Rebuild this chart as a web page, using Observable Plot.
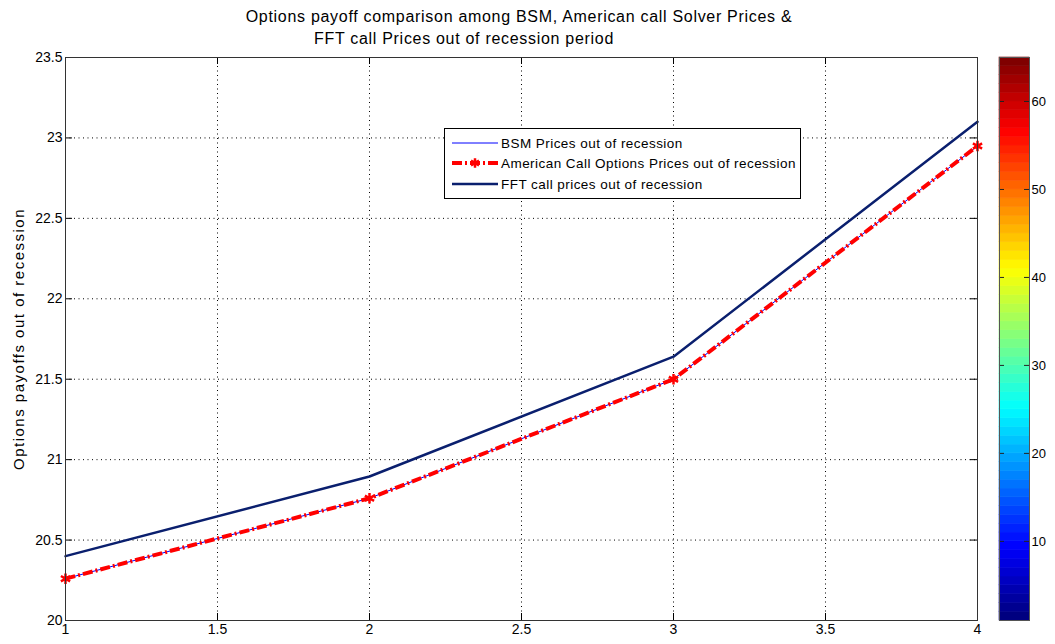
<!DOCTYPE html>
<html><head><meta charset="utf-8">
<script src="https://cdn.jsdelivr.net/npm/d3@7"></script>
<script src="https://cdn.jsdelivr.net/npm/@observablehq/plot@0.6"></script>
<style>
body{margin:0;background:#fff;}
#wrap{position:relative;width:1055px;height:644px;background:#fff;font-family:"Liberation Sans",Arial,sans-serif;overflow:hidden;}
.title{position:absolute;font-size:16px;letter-spacing:0.7px;color:#000;white-space:nowrap;transform:translateX(-50%);}
#main,#cbar,#legend{position:absolute;top:0;}
#main g[aria-label="text"] text{letter-spacing:1.5px;}
</style></head>
<body><div id="wrap">
<div id="main" style="left:0"></div>
<div id="cbar" style="left:989px"></div>
<div class="title" style="left:519px;top:8px">Options payoff comparison among BSM, American call Solver Prices &amp;</div>
<div class="title" style="left:464px;top:30px">FFT call Prices out of recession period</div>
<div id="legend" style="left:444px;top:128px"></div>
</div>
<script>
const xs = [1, 2, 3, 4];
const bsm = [20.26, 20.76, 21.50, 22.95];
const american = [20.26, 20.76, 21.50, 22.95];
const fft = [20.40, 20.895, 21.64, 23.10];
const xTicks = [1, 1.5, 2, 2.5, 3, 3.5, 4];
const yTicks = [20, 20.5, 21, 21.5, 22, 22.5, 23, 23.5];
const seriesNames = ["BSM Prices out of recession", "American Call Options Prices out of recession", "FFT call prices out of recession"];
const yLabel = "Options payoffs out of recession";
const cbarTicks = [10, 20, 30, 40, 50, 60];
const cbarBands = d3.range(1, 65);
const jetColors = ["#000080", "#0000ff", "#00ffff", "#ffff00", "#ff0000", "#800000"];

const toRows = ys => xs.map((x, i) => ({x, y: ys[i]}));
const W = 990, H = 644, mL = 65, mR = 13, mT = 57, mB = 24;
const pw = W - mL - mR, ph = H - mT - mB;
const dotted = {stroke: "#000", strokeOpacity: 1, strokeDasharray: "1,3.5", strokeWidth: 1};
const redDash = "10,3,2,3";

const main = Plot.plot({
  width: W, height: H, marginLeft: mL, marginRight: mR, marginTop: mT, marginBottom: mB,
  style: {fontFamily: "Liberation Sans, Arial, sans-serif", fontSize: "14px", background: "#fff", overflow: "visible"},
  x: {domain: [1, 4]},
  y: {domain: [20, 23.5]},
  marks: [
    Plot.gridX(xTicks.slice(1, -1), dotted),
    Plot.gridY(yTicks.slice(1, -1), dotted),
    Plot.tickX(xTicks, {stroke: "#000", insetTop: ph - 7}),
    Plot.tickX(xTicks, {stroke: "#000", insetBottom: ph - 7}),
    Plot.tickY(yTicks, {stroke: "#000", insetRight: pw - 7}),
    Plot.tickY(yTicks, {stroke: "#000", insetLeft: pw - 7}),
    Plot.axisX(xTicks, {tickSize: 0, tickPadding: 4, label: null, tickFormat: d => String(d)}),
    Plot.axisY(yTicks, {tickSize: 0, tickPadding: 3, label: null, tickFormat: d => String(d)}),
    Plot.text([yLabel], {frameAnchor: "left", textAnchor: "middle", dx: -46, rotate: -90, fontSize: 15}),
    Plot.line(toRows(bsm), {x: "x", y: "y", stroke: "#0000ff", strokeWidth: 1}),
    Plot.line(toRows(american), {x: "x", y: "y", stroke: "#ff0000", strokeWidth: 4, strokeDasharray: redDash, strokeLinecap: "butt", strokeLinejoin: "miter"}),
    Plot.dot(toRows(american), {x: "x", y: "y", symbol: "asterisk", stroke: "#ff0000", r: 5, strokeWidth: 2.5}),
    Plot.line(toRows(fft), {x: "x", y: "y", stroke: "#0a1f6e", strokeWidth: 2.5}),
    Plot.frame({stroke: "#333", strokeWidth: 1})
  ]
});
document.getElementById("main").appendChild(main);

const cbW = 66, cbL = 10, cbR = 26;
const cbw = cbW - cbL - cbR;
const cbar = Plot.plot({
  width: cbW, height: H, marginLeft: cbL, marginRight: cbR, marginTop: mT, marginBottom: mB,
  style: {fontFamily: "Liberation Sans, Arial, sans-serif", fontSize: "13px", background: "#fff", overflow: "visible"},
  x: {domain: [0, 1], axis: null},
  y: {domain: [1, 65]},
  color: {type: "linear", domain: [1, 8.875, 24.625, 40.375, 56.125, 64], range: jetColors},
  marks: [
    Plot.rect(cbarBands, {x1: 0, x2: 1, y1: d => d, y2: d => d + 1, fill: d => d, stroke: d => d, strokeWidth: 0.6}),
    Plot.tickY(cbarTicks, {stroke: "#222", insetRight: cbw - 5}),
    Plot.tickY(cbarTicks, {stroke: "#222", insetLeft: cbw - 5}),
    Plot.axisY(cbarTicks, {anchor: "right", tickSize: 0, tickPadding: 2, label: null}),
    Plot.frame({stroke: "#555"})
  ]
});
document.getElementById("cbar").appendChild(cbar);

// legend
const lg = d3.create("svg").attr("width", 358).attr("height", 72).style("font-family", "Liberation Sans, Arial, sans-serif");
lg.append("rect").attr("x", 0.5).attr("y", 0.5).attr("width", 356).attr("height", 70).attr("fill", "#fff").attr("stroke", "#000");
const styles = [
  {stroke: "#0000ff", w: 1, dash: null},
  {stroke: "#ff0000", w: 4, dash: redDash, star: true},
  {stroke: "#0a1f6e", w: 2.5, dash: null}
];
const rowsY = [15, 35, 56];
seriesNames.forEach((name, i) => {
  const s = styles[i];
  const l = lg.append("line").attr("x1", 8).attr("x2", 54).attr("y1", rowsY[i]).attr("y2", rowsY[i])
    .attr("stroke", s.stroke).attr("stroke-width", s.w);
  if (s.dash) l.attr("stroke-dasharray", s.dash);
  if (s.star) lg.append("path").attr("d", d3.symbol(d3.symbolAsterisk, 60)()).attr("transform", `translate(31,${rowsY[i]})`)
    .attr("stroke", "#ff0000").attr("stroke-width", 2.5);
  lg.append("text").attr("x", 57).attr("y", rowsY[i]).attr("dy", "0.35em").attr("font-size", 13.5)
    .attr("letter-spacing", "0.45px").text(name);
});
document.getElementById("legend").appendChild(lg.node());
</script>
</body></html>
